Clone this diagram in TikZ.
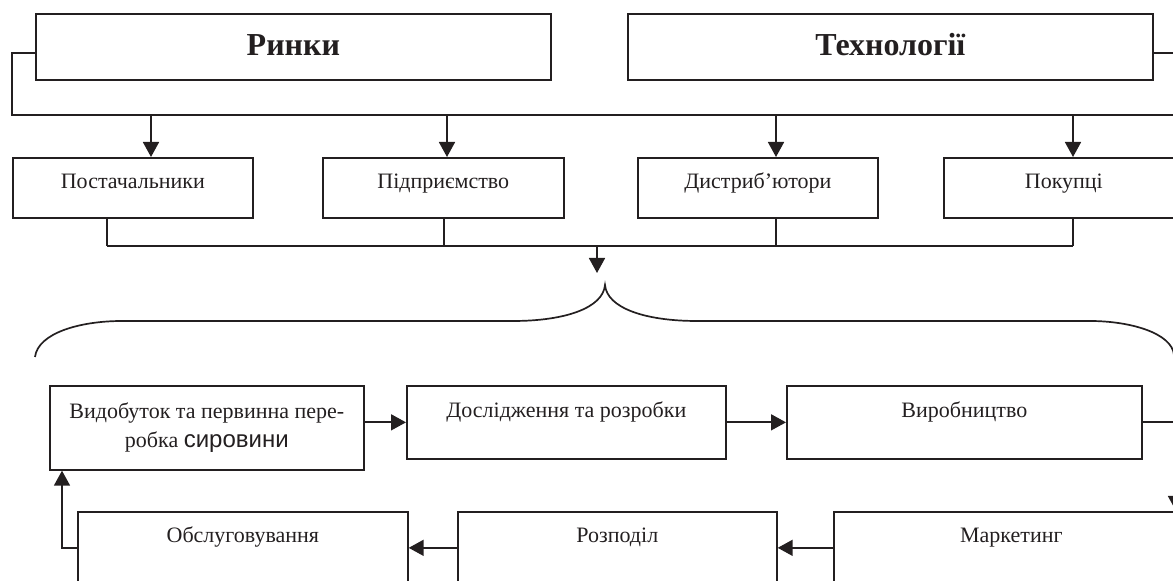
\documentclass[tikz,border=0pt]{standalone}
\usepackage{fontspec}
\setmainfont{Liberation Serif}
\newfontfamily\sansword{Liberation Sans}
\usetikzlibrary{positioning,arrows.meta}
\definecolor{ink}{HTML}{231F20}

\begin{document}
\begin{tikzpicture}[
    x=0.5pt, y=-0.5pt,
    line width=0.85pt, ink,
    box/.style={draw, rectangle, anchor=north west, inner xsep=0pt, inner ysep=0pt, text=ink, font=\fontsize{11}{14.5}\selectfont},
    topbox/.style={box, minimum width=#1, text height=21pt, text depth=12pt, font=\bfseries\fontsize{16}{19}\selectfont},
    midbox/.style={box, minimum width=#1, text height=15.5pt, text depth=14.5pt},
    stagebox/.style={box, minimum width=#1, text height=16pt, text depth=20.5pt},
    lowbox/.style={box, minimum width=#1, text height=15.5pt, text depth=20.5pt},
    arrow/.style={-{Triangle[length=7.5pt,width=8pt]}}
]
\useasboundingbox (0,0) rectangle (1173,581);
\clip (0,0) rectangle (1173,581);

% Top level
\node[topbox=257.5pt] (rynky) at (35,13) {Ринки};
\node[topbox=262.5pt] (tekhnol) at (627,13) {Технології};

% Participants
\node[midbox=120pt] (postach) at (12,157) {Постачальники};
\node[midbox=120.5pt] (pidpr) at (322,157) {Підприємство};
\node[midbox=120pt] (distr) at (637,157) {Дистриб’ютори};
\node[midbox=120pt] (pokup) at (943,157) {Покупці};

% Value chain
\node[box, minimum width=157pt, minimum height=42pt, align=center] (vydob) at (49,385)
    {Видобуток та первинна пере-\\робка {\sansword\fontsize{12}{14.5}\selectfont сировини}};
\node[stagebox=159.5pt] (doslid) at (406,385) {Дослідження та розробки};
\node[stagebox=177.5pt] (vyrob) at (786,385) {Виробництво};
\node[lowbox=165pt] (obsl) at (77,511) {Обслуговування};
\node[lowbox=159.5pt] (rozpod) at (457,511) {Розподіл};
\node[lowbox=177.5pt] (market) at (833,511) {Маркетинг};

% Upper bus
\coordinate (bus_l) at (12,115);
\coordinate (bus_r) at (1190,115);
\draw ([yshift=-3pt]rynky.west) -| (bus_l) -- (bus_r) |- ([yshift=-3pt]tekhnol.east);
\coordinate (in_postach) at (151,157);
\coordinate (in_pidpr) at (447,157);
\coordinate (in_distr) at (776,157);
\coordinate (in_pokup) at (1073,157);
\foreach \n in {in_postach,in_pidpr,in_distr,in_pokup}
    \draw[arrow] (bus_l -| \n) -- (\n);

% Lower bus
\coordinate (low_l) at (107,246);
\coordinate (low_r) at (1073,246);
\coordinate (out_pidpr) at (444,246);
\coordinate (out_distr) at (776,246);
\draw (low_l) -- (low_r);
\draw (postach.south -| low_l) -- (low_l);
\draw (pidpr.south -| out_pidpr) -- (out_pidpr);
\draw (distr.south -| out_distr) -- (out_distr);
\draw (pokup.south -| low_r) -- (low_r);
\coordinate (brace_in) at (597,273);
\draw[arrow] (brace_in |- low_l) -- (brace_in);

% Brace
\draw (35,357) .. controls (38,333) and (80,321) .. (122,321) -- (513,321)
    .. controls (565,321) and (603,308) .. (605,285)
    .. controls (607,308) and (645,321) .. (697,321) -- (1090,321)
    .. controls (1130,321) and (1172,333) .. (1174,355);

% Chain links
\coordinate (turn_r) at (1176,422);
\draw[arrow] (vydob.east |- doslid.west) -- (doslid.west);
\draw[arrow] (doslid) -- (vyrob);
\draw[arrow] (vyrob.east |- turn_r) -- (turn_r) -- (turn_r |- market.north);
\draw[arrow] (market) -- (rozpod);
\draw[arrow] (rozpod) -- (obsl);
\draw[arrow] (obsl.west) -| ([xshift=6.5pt]vydob.south west);

\end{tikzpicture}
\end{document}
